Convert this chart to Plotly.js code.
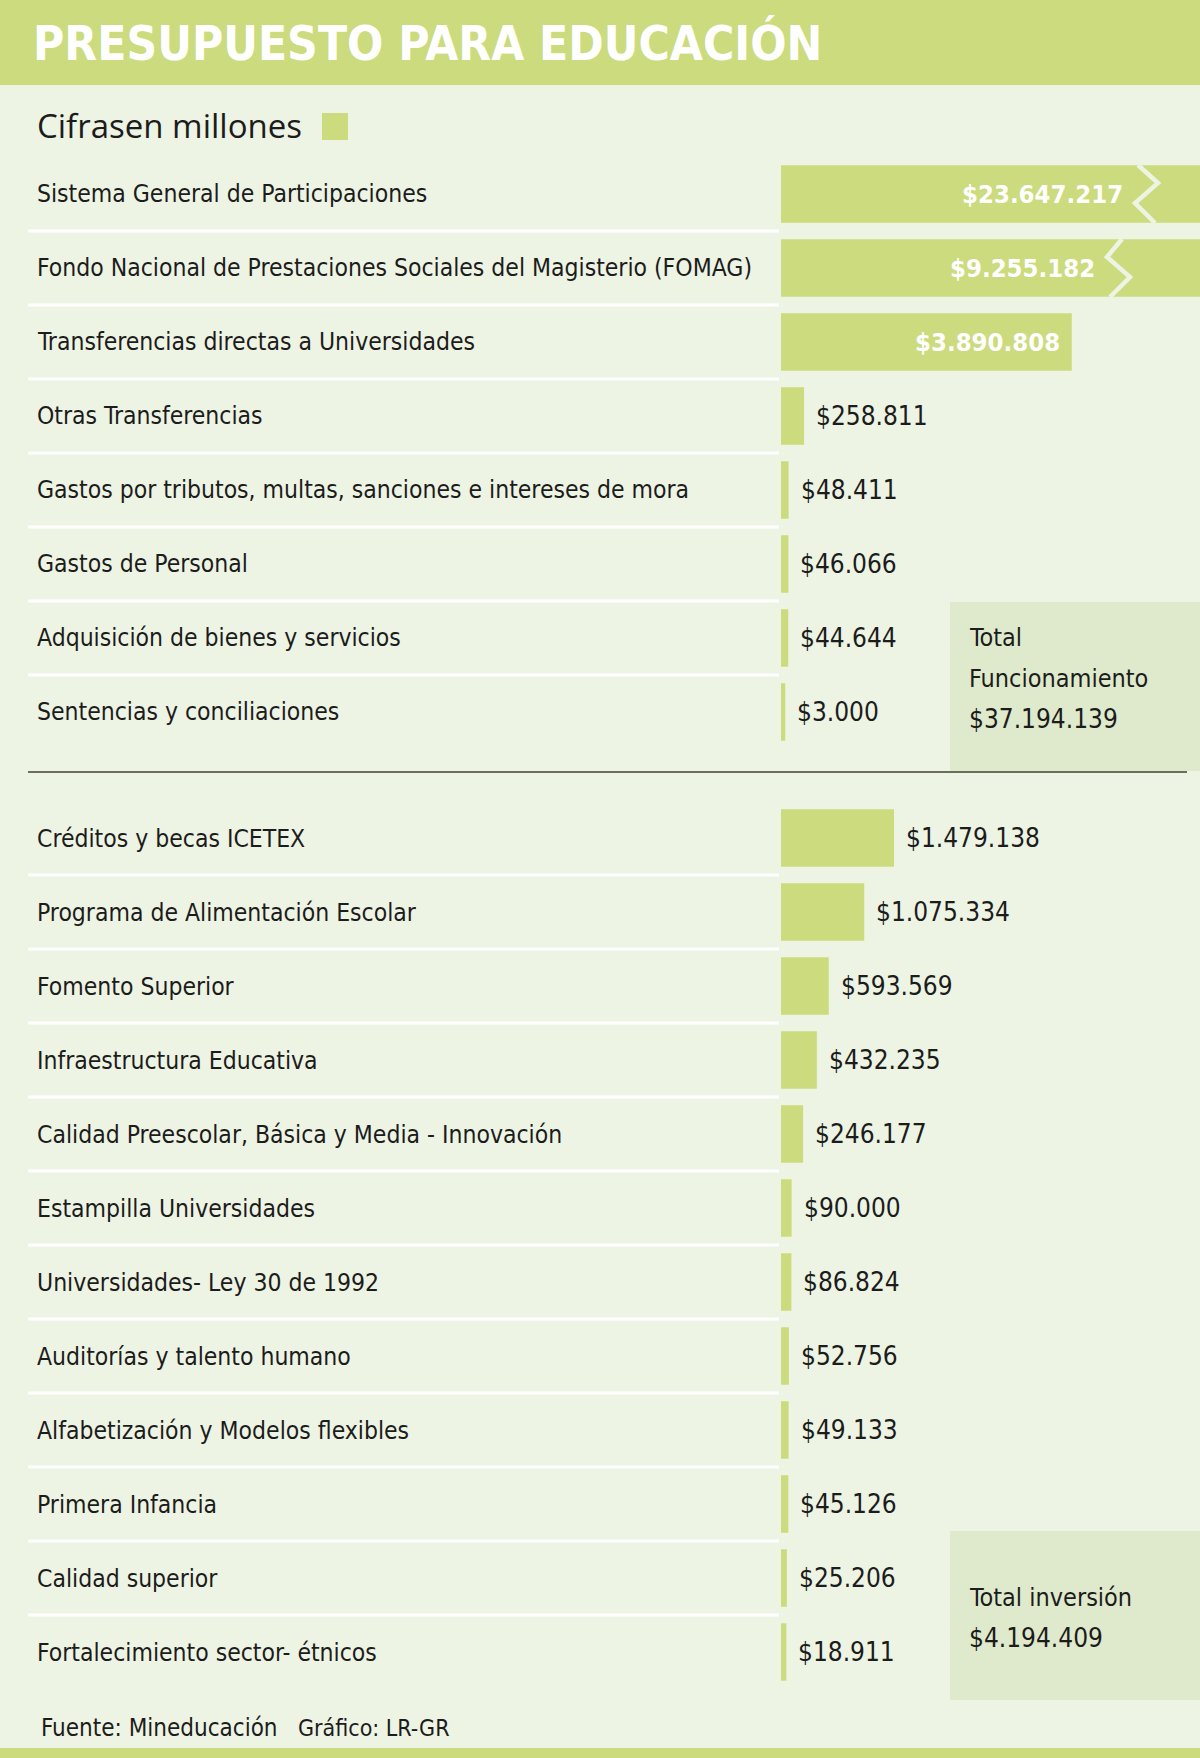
<!DOCTYPE html>
<html>
<head>
<meta charset="utf-8">
<script src="https://cdn.plot.ly/plotly-3.0.1.min.js"></script>
<style>
    html, body { margin: 0; padding: 0; background: #eef4e4; }
    #graph { width: 1200px; height: 1758px; }
</style>
</head>
<body>
<div id="graph"></div>
<script>
// Funcionamiento
const funcLabels = ['Sistema General de Participaciones',
    'Fondo Nacional de Prestaciones Sociales del Magisterio (FOMAG)',
    'Transferencias directas a Universidades', 'Otras Transferencias',
    'Gastos por tributos, multas, sanciones e intereses de mora', 'Gastos de Personal',
    'Adquisición de bienes y servicios', 'Sentencias y conciliaciones'];
const funcValues = [23647217, 9255182, 3890808, 258811, 48411, 46066, 44644, 3000];

// Inversión
const invLabels = ['Créditos y becas ICETEX', 'Programa de Alimentación Escolar', 'Fomento Superior',
    'Infraestructura Educativa', 'Calidad Preescolar, Básica y Media - Innovación',
    'Estampilla Universidades', 'Universidades- Ley 30 de 1992', 'Auditorías y talento humano',
    'Alfabetización y Modelos flexibles', 'Primera Infancia', 'Calidad superior',
    'Fortalecimiento sector- étnicos'];
const invValues = [1479138, 1075334, 593569, 432235, 246177, 90000, 86824, 52756, 49133, 45126, 25206, 18911];

const totalFunc = 37194139;
const totalInv = 4194409;

const W = 1200, H = 1758;
const green = '#cbdb7d';
const bg = '#eef4e4';
const boxColor = '#dfeacc';
const ink = '#1c1c1c';
const narrow = '"DejaVu Sans Condensed", sans-serif';

function px(x) { return x / W; }
function py(y) { return 1 - y / H; }
function money(v) { return '$' + String(v).replace(/\B(?=(\d{3})+(?!\d))/g, '.'); }

// bars that run off the right edge get a zigzag break mark (pixel x of its 4 points)
const breakMarks = {0: [1138, 1158, 1135, 1155], 1: [1122, 1107, 1130, 1110]};

const barMarker = {color: green, line: {color: green, width: 8}};

let data = [
    {type: 'bar', orientation: 'h', x: funcValues, y: funcLabels, xaxis: 'x', yaxis: 'y',
        marker: barMarker, hoverinfo: 'skip'},
    {type: 'bar', orientation: 'h', x: invValues, y: invLabels, xaxis: 'x', yaxis: 'y2',
        marker: barMarker, hoverinfo: 'skip'},
];

let shapes = [
    {type: 'rect', xref: 'paper', yref: 'paper', x0: 0, x1: 1, y0: py(85), y1: 1,
        fillcolor: green, line: {width: 0}, layer: 'below'},
    {type: 'rect', xref: 'paper', yref: 'paper', x0: 0, x1: 1, y0: 0, y1: py(1748),
        fillcolor: green, line: {width: 0}, layer: 'below'},
    {type: 'rect', xref: 'paper', yref: 'paper', x0: px(322), x1: px(348), y0: py(140), y1: py(113),
        fillcolor: green, line: {width: 0}},
    {type: 'rect', xref: 'paper', yref: 'paper', x0: px(950), x1: 1, y0: py(771), y1: py(602),
        fillcolor: boxColor, line: {width: 0}, layer: 'below'},
    {type: 'rect', xref: 'paper', yref: 'paper', x0: px(950), x1: 1, y0: py(1700), y1: py(1531),
        fillcolor: boxColor, line: {width: 0}, layer: 'below'},
    {type: 'line', xref: 'paper', yref: 'paper', x0: px(28), x1: px(1187), y0: py(772), y1: py(772),
        line: {color: '#6d6d5e', width: 2}},
];

function note(x, y, text, size, extra) {
    return Object.assign({xref: 'paper', yref: 'paper', x: px(x), y: py(y), xanchor: 'left', yanchor: 'middle',
        text: text, showarrow: false, font: {family: narrow, size: size, color: ink}}, extra || {});
}

let annotations = [
    note(35, 126, 'Cifrasen millones', 33, {font: {family: '"Open Sans", sans-serif', size: 33, color: ink}}),
    note(967, 637, 'Total', 25),
    note(967, 679, 'Funcionamiento', 25),
    note(967, 719, money(totalFunc), 26),
    note(967, 1597, 'Total inversión', 25),
    note(967, 1638, money(totalInv), 26),
    note(39, 1728, 'Fuente: Mineducación', 24),
    note(296, 1728, 'Gráfico: LR-GR', 23),
];

function addSection(labels, values, yref, rowTop, withBreaks) {
    for (let i = 0; i < labels.length; i++) {
        annotations.push({xref: 'paper', yref: yref, x: px(35), y: labels[i], xanchor: 'left', yanchor: 'middle',
            text: labels[i], showarrow: false, font: {family: narrow, size: 24.5, color: ink}});

        if (withBreaks && breakMarks[i]) {
            let xs = breakMarks[i];
            let c = rowTop + 74 * i;
            let ys = [c - 29, c - 11, c + 9, c + 29];
            let path = 'M' + xs.map((x, k) => px(x) + ',' + py(ys[k])).join('L');
            shapes.push({type: 'path', xref: 'paper', yref: 'paper', path: path,
                line: {color: bg, width: 4.5}});
            annotations.push({xref: 'paper', yref: yref, x: px(Math.min(...xs) - 10), y: labels[i],
                xanchor: 'right', yanchor: 'middle', text: money(values[i]), showarrow: false,
                font: {family: narrow, size: 25.5, color: 'white', weight: 'bold'}});
        } else if (values[i] > 3000000) {
            annotations.push({xref: 'x', yref: yref, x: values[i], y: labels[i], xshift: -6,
                xanchor: 'right', yanchor: 'middle', text: money(values[i]), showarrow: false,
                font: {family: narrow, size: 25.5, color: 'white', weight: 'bold'}});
        } else {
            annotations.push({xref: 'x', yref: yref, x: values[i], y: labels[i], xshift: 14,
                xanchor: 'left', yanchor: 'middle', text: money(values[i]), showarrow: false,
                font: {family: narrow, size: 26, color: ink}});
        }

        if (i < labels.length - 1) {
            shapes.push({type: 'line', xref: 'paper', yref: yref, x0: px(28), x1: px(779),
                y0: i + 0.5, y1: i + 0.5, line: {color: 'white', width: 3}});
        }
    }
}

addSection(funcLabels, funcValues, 'y', 194, true);
addSection(invLabels, invValues, 'y2', 838, false);

let layout = {
    width: W,
    height: H,
    margin: {l: 0, r: 0, t: 0, b: 0},
    paper_bgcolor: bg,
    plot_bgcolor: 'rgba(0,0,0,0)',
    showlegend: false,
    bargap: 0.332,
    title: {
        text: 'PRESUPUESTO PARA EDUCACIÓN',
        xref: 'container', x: px(33), xanchor: 'left',
        yref: 'container', y: py(43), yanchor: 'middle',
        font: {family: narrow, size: 47.5, color: 'white', weight: 'bold'},
    },
    xaxis: {domain: [px(781), 1], range: [0, 5685000], visible: false, fixedrange: true},
    yaxis: {domain: [py(749), py(157)], type: 'category', range: [funcLabels.length - 0.5, -0.5],
        visible: false, fixedrange: true},
    yaxis2: {domain: [py(1689), py(801)], type: 'category', range: [invLabels.length - 0.5, -0.5],
        visible: false, fixedrange: true, anchor: 'x'},
    shapes: shapes,
    annotations: annotations,
};

Plotly.newPlot('graph', data, layout, {displayModeBar: false, staticPlot: true});
</script>
</body>
</html>
